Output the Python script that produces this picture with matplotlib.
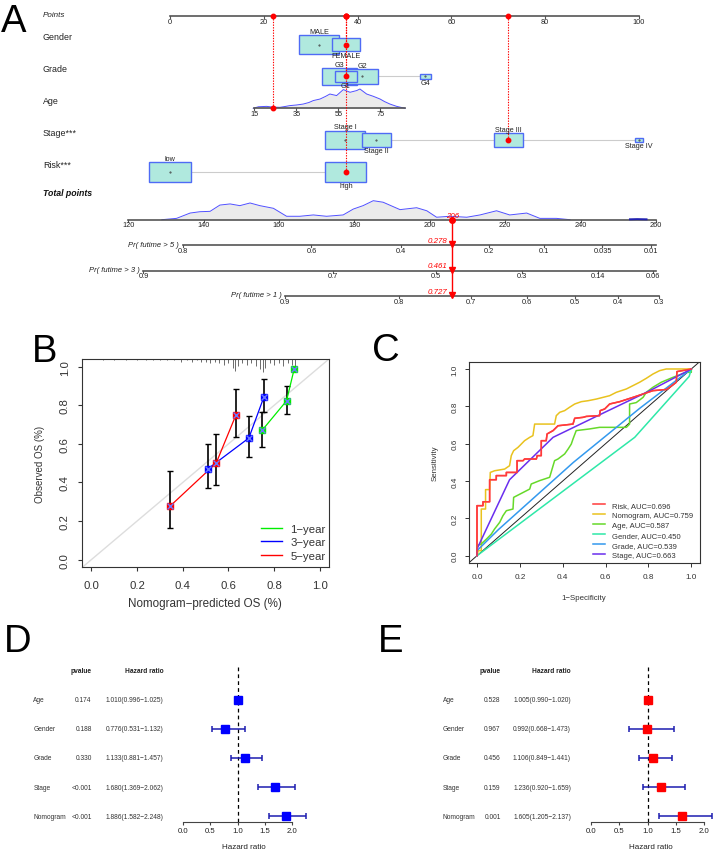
import numpy as np
import matplotlib
matplotlib.use("Agg")
import matplotlib.pyplot as plt
from matplotlib import transforms
from matplotlib.patches import Rectangle
from matplotlib.lines import Line2D

plt.rcParams['font.family'] = ['Liberation Sans', 'DejaVu Sans']

W, H = 714, 853

# ---------------- Panel A: nomogram ----------------
points_ticks = [0, 20, 40, 60, 80, 100]

gender_levels = ["MALE", "FEMALE"]
gender_points = [31.8, 37.5]
gender_weight = [0.47, 0.24]
gender_above = [True, False]

grade_levels = ["G1", "G2", "G3", "G4"]
grade_points = [37.5, 41.0, 36.1, 54.4]
grade_weight = [0.15, 0.30, 0.37, 0.035]
grade_above = [False, True, True, False]

stage_levels = ["Stage I", "Stage II", "Stage III", "Stage IV"]
stage_points = [37.4, 44.0, 72.1, 100.0]
stage_weight = [0.48, 0.25, 0.25, 0.018]
stage_above = [True, False, True, False]

risk_levels = ["low", "high"]
risk_points = [0.0, 37.5]
risk_weight = [0.5, 0.5]
risk_above = [True, False]

age_ticks = [15, 35, 55, 75]
age_range = [15, 86.8]
age_pts_at15 = 17.97
age_pts_per_year = 0.4478
age_dens_x = [14.5, 17, 20.9, 24, 27.2, 30, 32.0, 35, 38.3, 41, 43.1, 46.3, 49,
              51.0, 54.2, 57.4, 60.6, 63.8, 65.3, 68.5, 71.7, 74.9, 77, 79.6, 82.8, 86.8]
age_dens_h = [0, 0.08, 0.10, 0.06, 0.05, 0.10, 0.14, 0.17, 0.22, 0.30, 0.40, 0.48, 0.62,
              0.74, 0.66, 0.97, 0.83, 0.92, 1.0, 0.74, 0.62, 0.48, 0.35, 0.22, 0.10, 0]

total_ticks = [120, 140, 160, 180, 200, 220, 240, 260]
tp_dens_x = [128.9, 132.8, 136.4, 139.0, 141.7, 144.3, 147.0, 149.6, 152.3, 154.9, 158.5,
             162.0, 165.5, 169.1, 172.6, 177.0, 179.7, 182.3, 185.0, 187.6, 192.1, 196.5,
             199.2, 201.8, 205.3, 209.8, 213.3, 217.7, 221.2, 225.7, 229.2, 233.6, 237.2]
tp_dens_h = [0, 0.07, 0.35, 0.42, 0.44, 0.77, 0.83, 0.74, 0.88, 0.74, 0.60, 0.18, 0.18,
             0.25, 0.18, 0.25, 0.56, 0.74, 1.0, 0.92, 0.53, 0.63, 0.47, 0.13, 0.18, 0.13,
             0.25, 0.47, 0.25, 0.35, 0.07, 0.07, 0]
tp_tail_x = [253.1, 255.0, 257.5]
tp_tail_h = [0.02, 0.03, 0.02]

pr_names = ["Pr( futime > 5 )", "Pr( futime > 3 )", "Pr( futime > 1 )"]
pr5_labels = ["0.8", "0.6", "0.4", "0.2", "0.1", "0.035", "0.01"]
pr5_pos = [134.5, 168.6, 192.3, 215.8, 230.3, 245.8, 258.8]
pr3_labels = ["0.9", "0.7", "0.5", "0.3", "0.14", "0.06"]
pr3_pos = [124.0, 174.4, 201.6, 224.4, 244.5, 259.3]
pr1_labels = ["0.9", "0.8", "0.7", "0.6", "0.5", "0.4", "0.3"]
pr1_pos = [161.6, 191.8, 210.9, 225.7, 238.5, 249.8, 260.8]

patient_age = 24
patient_total = 206
patient_pred = ["0.278", "0.461", "0.727"]
sel_gender, sel_grade, sel_stage, sel_risk = "FEMALE", "G1", "Stage III", "high"

# ---------------- Panel B: calibration ----------------
cal_names = ["1\u2212year", "3\u2212year", "5\u2212year"]
cal_x = [[0.747, 0.854, 0.888], [0.509, 0.689, 0.755], [0.345, 0.546, 0.633]]
cal_y = [[0.670, 0.823, 0.990], [0.470, 0.630, 0.843], [0.278, 0.500, 0.751]]
cal_lo = [[0.583, 0.753, 0.979], [0.370, 0.534, 0.765], [0.163, 0.386, 0.635]]
cal_hi = [[0.765, 0.899, 1.000], [0.600, 0.743, 0.934], [0.459, 0.652, 0.887]]
spike_x = [0.05, 0.10, 0.15, 0.20, 0.24, 0.27, 0.30, 0.33, 0.36, 0.39, 0.42, 0.44, 0.46,
           0.48, 0.50, 0.52, 0.54, 0.56, 0.58, 0.60, 0.62, 0.63, 0.64, 0.66, 0.68, 0.70,
           0.72, 0.74, 0.75, 0.76, 0.78, 0.80, 0.82, 0.84, 0.86, 0.88, 0.89]
spike_n = [1, 1, 1, 1, 1, 1, 1, 1, 1, 2, 1, 2, 1, 2, 2, 3, 2, 3, 4, 3, 6, 8, 5, 3, 4, 3,
           5, 7, 9, 6, 3, 4, 3, 5, 3, 4, 7]

# ---------------- Panel C: ROC ----------------
risk_fpr = [0, 0, 0.028, 0.028, 0.059, 0.059, 0.09, 0.09, 0.137, 0.137, 0.187, 0.187, 0.215,
            0.222, 0.277, 0.281, 0.30, 0.30, 0.323, 0.327, 0.355, 0.378, 0.448, 0.456, 0.495,
            0.51, 0.572, 0.575, 0.596, 0.619, 0.666, 0.728, 0.775, 0.821, 0.883, 0.899, 0.93,
            0.933, 1.0]
risk_tpr = [0, 0.268, 0.268, 0.289, 0.289, 0.407, 0.407, 0.429, 0.429, 0.446, 0.446, 0.509,
            0.509, 0.518, 0.518, 0.536, 0.536, 0.616, 0.616, 0.652, 0.67, 0.696, 0.705, 0.736,
            0.741, 0.746, 0.75, 0.777, 0.786, 0.8125, 0.825, 0.848, 0.866, 0.884, 0.89, 0.902,
            0.929, 0.986, 1.0]
nom_fpr = [0, 0.006, 0.02, 0.02, 0.04, 0.04, 0.059, 0.062, 0.082, 0.129, 0.152, 0.16, 0.171,
           0.191, 0.199, 0.222, 0.246, 0.261, 0.269, 0.362, 0.37, 0.386, 0.409, 0.432, 0.456,
           0.487, 0.518, 0.557, 0.588, 0.619, 0.65, 0.697, 0.728, 0.759, 0.79, 0.821, 0.852,
           0.883, 1.0]
nom_tpr = [0, 0.027, 0.027, 0.25, 0.25, 0.354, 0.354, 0.446, 0.455, 0.464, 0.482, 0.536,
           0.5625, 0.58, 0.589, 0.616, 0.634, 0.643, 0.705, 0.705, 0.75, 0.768, 0.777, 0.795,
           0.8125, 0.825, 0.83, 0.839, 0.848, 0.857, 0.875, 0.893, 0.911, 0.929, 0.95, 0.973,
           0.991, 1.0, 1.0]
age_fpr = [0, 0, 0.02, 0.044, 0.067, 0.082, 0.106, 0.121, 0.137, 0.168, 0.171, 0.246, 0.253,
           0.292, 0.339, 0.362, 0.378, 0.409, 0.425, 0.44, 0.448, 0.463, 0.526, 0.572, 0.697,
           0.712, 0.712, 0.743, 0.775, 0.79, 0.821, 0.86, 0.914, 0.977, 1.0, 1.0]
age_tpr = [0, 0.054, 0.063, 0.089, 0.116, 0.143, 0.179, 0.214, 0.241, 0.25, 0.3125, 0.357,
           0.384, 0.402, 0.42, 0.509, 0.518, 0.545, 0.571, 0.598, 0.625, 0.67, 0.679, 0.6875,
           0.6875, 0.705, 0.8125, 0.82, 0.848, 0.875, 0.902, 0.929, 0.955, 0.982, 0.982, 1.0]
gender_fpr = [0, 0.736, 0.99, 1.0]
gender_tpr = [0, 0.634, 0.96, 1.0]
grade_fpr = [0, 0, 0.10, 0.45, 0.76, 1.0]
grade_tpr = [0, 0.027, 0.14, 0.50, 0.79, 1.0]
stage_fpr = [0, 0, 0.152, 0.355, 0.60, 0.80, 1.0]
stage_tpr = [0, 0.036, 0.407, 0.634, 0.77, 0.88, 1.0]
roc_labels = ["Risk, AUC=0.696", "Nomogram, AUC=0.759", "Age, AUC=0.587",
              "Gender, AUC=0.450", "Grade, AUC=0.539", "Stage, AUC=0.663"]
roc_colors = ["#FF3B3B", "#E9C21E", "#66D92A", "#2EE8A8", "#3399EE", "#6A2EEE"]

# ---------------- Panels D, E: forest plots ----------------
forest_vars = ["Age", "Gender", "Grade", "Stage", "Nomogram"]
d_pval = ["0.174", "0.188", "0.330", "<0.001", "<0.001"]
d_hr = [1.010, 0.776, 1.133, 1.680, 1.886]
d_lo = [0.996, 0.531, 0.881, 1.369, 1.582]
d_hi = [1.025, 1.132, 1.457, 2.062, 2.248]
e_pval = ["0.528", "0.967", "0.456", "0.159", "0.001"]
e_hr = [1.005, 0.992, 1.106, 1.236, 1.605]
e_lo = [0.990, 0.668, 0.849, 0.920, 1.205]
e_hi = [1.020, 1.473, 1.441, 1.659, 2.137]
hr_ticks = [0.0, 0.5, 1.0, 1.5, 2.0]


def rect(x0, y0, x1, y1):
    return [x0 / W, 1 - y1 / H, (x1 - x0) / W, (y1 - y0) / H]


def fx(px):
    return px / W


def fy(py):
    return 1 - py / H


fig = plt.figure(figsize=(W / 100, H / 100), dpi=100)

# ===== Panel A =====
A_H = 310
PT0, PT_SC = 170.0, 4.69       # pixel of 0 points, pixels per point
TP0, TP_SC = 128.3, 3.769      # pixel of 120 total points, pixels per total point
ax = fig.add_axes(rect(0, 0, W, A_H))
ax.set_xlim(-PT0 / PT_SC, (W - PT0) / PT_SC)
ax.set_ylim(A_H, 0)
ax.axis('off')
axt = fig.add_axes(rect(0, 0, W, A_H))
axt.set_xlim(120 - TP0 / TP_SC, 120 + (W - TP0) / TP_SC)
axt.set_ylim(A_H, 0)
axt.axis('off')

RED = '#FF0000'
BOX_FC, BOX_EC = '#B0E9DE', '#4F6BF5'
AXC = '#555555'
TXT = '#222222'
lab_x = (43 - PT0) / PT_SC
y_pts, y_gen, y_gra, y_age, y_sta, y_ris = 17, 45.7, 77.3, 109.3, 141, 173
y_tot = 220.7
y_pr = [246.3, 271.7, 297]

# points axis
ax.plot([0, 100], [y_pts, y_pts], color=AXC, lw=1.2)
for t in points_ticks:
    ax.plot([t, t], [y_pts, y_pts + 1.8], color=AXC, lw=0.8)
    ax.text(t, y_pts + 5, str(t), ha='center', va='center', fontsize=5.3, color=TXT)
ax.text(lab_x, 15.7, "Points", style='italic', fontsize=5.8, va='center', color=TXT)

row_labels = [("Gender", y_gen), ("Grade", y_gra), ("Age", y_age),
              ("Stage***", y_sta), ("Risk***", y_ris)]
for name, yy in row_labels:
    ax.text(lab_x, yy - 8, name, fontsize=6.4, va='center', color=TXT)
ax.text(lab_x, 193.7, "Total points", fontsize=6.3, va='center',
        style='italic', weight='bold', color='#111111')

BOX_W, BOX_H = 58 / PT_SC, 27.0


def draw_factor(yy, levels, pts, weights, above, chosen):
    ax.plot([min(pts), max(pts)], [yy, yy], color='#CCCCCC', lw=0.8, zorder=1)
    order = np.argsort(weights)[::-1]
    for k, i in enumerate(order):
        s = np.sqrt(weights[i])
        w, h = BOX_W * s, BOX_H * s
        ax.add_patch(Rectangle((pts[i] - w / 2, yy - h / 2), w, h, fc=BOX_FC, ec=BOX_EC,
                               lw=1.0, zorder=2 + k))
        ax.plot(pts[i], yy, marker='.', ms=1, color='#444444', zorder=2 + k)
        if above[i]:
            ax.text(pts[i], yy - h / 2 - 0.3, levels[i], ha='center', va='bottom',
                    fontsize=5.2, color=TXT, zorder=20)
        else:
            ax.text(pts[i], yy + h / 2 + 0.3, levels[i], ha='center', va='top',
                    fontsize=5.2, color=TXT, zorder=20)
    p = pts[levels.index(chosen)]
    ax.plot([p, p], [y_pts, yy], color=RED, lw=0.8, ls=(0, (1.2, 1.2)), zorder=15)
    ax.plot(p, yy, 'o', color=RED, ms=3.2, zorder=16)
    ax.plot(p, y_pts, 'o', color=RED, ms=3.2, zorder=16)


draw_factor(y_gen, gender_levels, gender_points, gender_weight, gender_above, sel_gender)
draw_factor(y_gra, grade_levels, grade_points, grade_weight, grade_above, sel_grade)
draw_factor(y_sta, stage_levels, stage_points, stage_weight, stage_above, sel_stage)
draw_factor(y_ris, risk_levels, risk_points, risk_weight, risk_above, sel_risk)


def age_to_pts(a):
    return age_pts_at15 + age_pts_per_year * (np.asarray(a, dtype=float) - 15)


# age axis with density
ax_x = age_to_pts(age_dens_x)
ax_h = y_age - 19.3 * np.asarray(age_dens_h)
ax.fill_between(ax_x, y_age, ax_h, color='#EBEBEB', lw=0, zorder=1)
ax.plot(ax_x, ax_h, color='#5050FF', lw=0.7, zorder=2)
ax.plot(age_to_pts(age_range), [y_age, y_age], color=AXC, lw=1.2, zorder=3)
for a in age_ticks:
    ax.plot([age_to_pts(a)] * 2, [y_age, y_age + 1.8], color=AXC, lw=0.8)
    ax.text(age_to_pts(a), y_age + 5, str(a), ha='center', va='center', fontsize=5.3, color=TXT)
pa = age_to_pts(patient_age)
ax.plot([pa, pa], [y_pts, y_age], color=RED, lw=0.8, ls=(0, (1.2, 1.2)), zorder=15)
ax.plot(pa, y_age, 'o', color=RED, ms=3.2, zorder=16)
ax.plot(pa, y_pts, 'o', color=RED, ms=3.2, zorder=16)

# total points axis with density
th = y_tot - 19.0 * np.asarray(tp_dens_h)
axt.fill_between(tp_dens_x, y_tot, th, color='#EBEBEB', lw=0, zorder=1)
axt.plot(tp_dens_x, th, color='#5050FF', lw=0.7, zorder=2)
axt.plot(tp_tail_x, y_tot - 19.0 * np.asarray(tp_tail_h), color='#2020B0', lw=1.4, zorder=4)
axt.plot([total_ticks[0], total_ticks[-1]], [y_tot, y_tot], color=AXC, lw=1.2, zorder=3)
for t in total_ticks:
    axt.plot([t, t], [y_tot, y_tot + 1.8], color=AXC, lw=0.8)
    axt.text(t, y_tot + 5, str(t), ha='center', va='center', fontsize=5.3, color=TXT)

# probability axes
for name, yy, labs, pos in zip(pr_names, y_pr, [pr5_labels, pr3_labels, pr1_labels],
                               [pr5_pos, pr3_pos, pr1_pos]):
    end = max(pos[-1], total_ticks[-1])
    axt.plot([pos[0], end], [yy, yy], color=AXC, lw=1.2)
    for l, p in zip(labs, pos):
        axt.plot([p, p], [yy, yy + 1.8], color=AXC, lw=0.8)
        axt.text(p, yy + 5.2, l, ha='center', va='center', fontsize=5.3, color=TXT)
    axt.text(pos[0] - 1.0, yy - 1.2, name, ha='right', va='center', style='italic',
             fontsize=5.5, color=TXT)

# patient prediction
axt.plot([patient_total, patient_total], [y_tot, y_pr[-1]], color=RED, lw=1.0, zorder=10)
axt.plot(patient_total, y_tot, 'o', color=RED, ms=4, zorder=11)
axt.text(patient_total, y_tot - 4, str(patient_total), ha='center', va='center',
         style='italic', fontsize=5.7, color=RED, zorder=12)
for yy, v in zip(y_pr, patient_pred):
    axt.plot(patient_total, yy - 1.2, 'v', color=RED, ms=4.5, zorder=11)
    axt.text(patient_total - 1.4, yy - 5, v, ha='right', va='center', style='italic',
             fontsize=5.7, color=RED)

# ===== Panel B =====
axB = fig.add_axes(rect(82.3, 360, 329, 568.3))
axB.set_xlim(-0.04, 1.04)
axB.set_ylim(-0.04, 1.04)
axB.axline((0, 0), (1, 1), color='#DDDDDD', lw=1.0, zorder=1)
axB.vlines(spike_x, 1.04 - 0.0075 * np.asarray(spike_n), 1.04, color='#555555', lw=0.6)
cal_colors = ['#00EE00', '#0000FF', '#FF0000']
for xs, ys, lo, hi, c in zip(cal_x, cal_y, cal_lo, cal_hi, cal_colors):
    xs, ys, lo, hi = map(np.asarray, (xs, ys, lo, hi))
    axB.errorbar(xs, ys, yerr=[ys - lo, hi - ys], fmt='none', ecolor='black',
                 elinewidth=1.2, capsize=2.2, capthick=1.0, zorder=3)
    axB.plot(xs, ys, color=c, lw=0.9, zorder=4)
    axB.plot(xs, ys, 's', color=c, ms=4.2, zorder=5)
    axB.plot(xs, ys, 'x', color='#6A78FF', ms=4.0, mew=1.0, zorder=6)
axB.set_xticks([0, 0.2, 0.4, 0.6, 0.8, 1.0])
axB.set_yticks([0, 0.2, 0.4, 0.6, 0.8, 1.0])
axB.set_xticklabels(["0.0", "0.2", "0.4", "0.6", "0.8", "1.0"])
axB.set_yticklabels(["0.0", "0.2", "0.4", "0.6", "0.8", "1.0"], rotation=90, va='center')
axB.tick_params(length=3, width=0.8, labelsize=8.2, pad=6, color='#333333', labelcolor='#333333')
for s in axB.spines.values():
    s.set_linewidth(0.8)
    s.set_color('#333333')
handles = [Line2D([], [], color=c, lw=1.0) for c in cal_colors]
axB.legend(handles, cal_names, loc='lower right', frameon=False, fontsize=8.2,
           handlelength=1.8, handletextpad=0.75, labelspacing=0.29,
           bbox_to_anchor=(1.018, -0.007), borderpad=0.2, labelcolor='#333333')
fig.text(fx(40), fy(464), "Observed OS (%)", rotation=90, ha='center', va='center',
         fontsize=7.0, color='#333333')
fig.text(fx(205), fy(604), "Nomogram\u2212predicted OS (%)", ha='center', va='center',
         fontsize=8.4, color='#333333')

# ===== Panel C =====
axC = fig.add_axes(rect(469, 362.7, 700, 564))
axC.set_xlim(-0.0373, 1.0406)
axC.set_ylim(-0.039, 1.039)
axC.axline((0, 0), (1, 1), color='#222222', lw=0.7, zorder=1)
roc_fpr = [risk_fpr, nom_fpr, age_fpr, gender_fpr, grade_fpr, stage_fpr]
roc_tpr = [risk_tpr, nom_tpr, age_tpr, gender_tpr, grade_tpr, stage_tpr]
for f, t, c, l in zip(roc_fpr, roc_tpr, roc_colors, roc_labels):
    axC.plot(f, t, color=c, lw=1.1, label=l, zorder=3)
# red curve on top of the purple one where they cross
axC.plot(risk_fpr, risk_tpr, color=roc_colors[0], lw=1.1, zorder=4)
axC.set_xticks([0, 0.2, 0.4, 0.6, 0.8, 1.0])
axC.set_yticks([0, 0.2, 0.4, 0.6, 0.8, 1.0])
axC.set_xticklabels(["0.0", "0.2", "0.4", "0.6", "0.8", "1.0"])
axC.set_yticklabels(["0.0", "0.2", "0.4", "0.6", "0.8", "1.0"], rotation=90, va='center')
axC.tick_params(length=3, width=0.7, labelsize=5.9, pad=4.5, color='#333333', labelcolor='#333333')
for s in axC.spines.values():
    s.set_linewidth(0.8)
    s.set_color('#333333')
axC.legend(loc='lower right', frameon=False, fontsize=5.5, handlelength=1.5,
           handletextpad=0.9, labelspacing=0.35, bbox_to_anchor=(0.995, -0.01),
           borderpad=0.3, labelcolor='#333333')
fig.text(fx(435), fy(463), "Sensitivity", rotation=90, ha='center', va='center',
         fontsize=5.7, color='#333333')
fig.text(fx(584), fy(598.3), "1\u2212Specificity", ha='center', va='center',
         fontsize=5.7, color='#333333')


# ===== Panels D and E =====
def forest(x0, x1, zero_px, unit_px, label_x, p_x, hr_x, xlab_x, pvals, hr, lo, hi, sq_color):
    axF = fig.add_axes(rect(x0, 660, x1, 823.3))
    axF.set_xlim((x0 - zero_px) / unit_px, (x1 - zero_px) / unit_px)
    axF.set_ylim(823.3, 660)
    for k in ['top', 'right', 'left']:
        axF.spines[k].set_visible(False)
    axF.spines['bottom'].set_bounds(hr_ticks[0], hr_ticks[-1])
    axF.spines['bottom'].set_linewidth(0.8)
    axF.spines['bottom'].set_color('#444444')
    axF.set_yticks([])
    axF.set_xticks(hr_ticks)
    axF.set_xticklabels([f"{t:.1f}" for t in hr_ticks])
    axF.tick_params(axis='x', length=2.5, width=0.8, labelsize=5.6, pad=1.2,
                    color='#444444', labelcolor='#222222')
    axF.patch.set_alpha(0)
    ys = 700.7 + 29.15 * np.arange(len(hr))
    hr, lo, hi = map(np.asarray, (hr, lo, hi))
    axF.plot([1, 1], [668, 823.3], color='black', lw=0.9, ls=(0, (3, 2.5)), zorder=1)
    axF.errorbar(hr, ys, xerr=[hr - lo, hi - hr], fmt='none', ecolor='#1C1CB0',
                 elinewidth=1.1, capsize=2.3, capthick=1.1, zorder=3)
    axF.plot(hr, ys, 's', color=sq_color, ms=5.3, zorder=4)
    tr = transforms.blended_transform_factory(fig.transFigure, axF.transData)
    hdr = dict(fontsize=4.8, weight='bold', va='center', transform=tr, color='#222222')
    axF.text(fx(p_x), 671.7, "pvalue", ha='right', **hdr)
    axF.text(fx(hr_x), 671.7, "Hazard ratio", ha='right', **hdr)
    body = dict(fontsize=4.8, va='center', transform=tr, color='#333333')
    for yy, v, p, h, l, u in zip(ys, forest_vars, pvals, hr, lo, hi):
        axF.text(fx(label_x), yy, v, ha='left', **body)
        axF.text(fx(p_x), yy, p, ha='right', **body)
        axF.text(fx(hr_x), yy, f"{h:.3f}({l:.3f}\u2212{u:.3f})", ha='right', **body)
    fig.text(fx(xlab_x), fy(847.3), "Hazard ratio", ha='center', va='center',
             fontsize=5.8, color='#222222')


forest(150, 350, 183, 54.5, 33.3, 91.7, 163.3, 244, d_pval, d_hr, d_lo, d_hi, '#0000FF')
forest(560, 714, 591, 56.5, 442.7, 500.7, 571, 651, e_pval, e_hr, e_lo, e_hi, '#FF0000')

# panel letters
for letter, px, py in [("A", 1, 31.7), ("B", 32, 362), ("C", 372, 360.7),
                       ("D", 4, 651.7), ("E", 378, 651.7)]:
    fig.text(fx(px), fy(py), letter, fontsize=27.5, ha='left', va='baseline')

fig.savefig("out.png", dpi=100)
